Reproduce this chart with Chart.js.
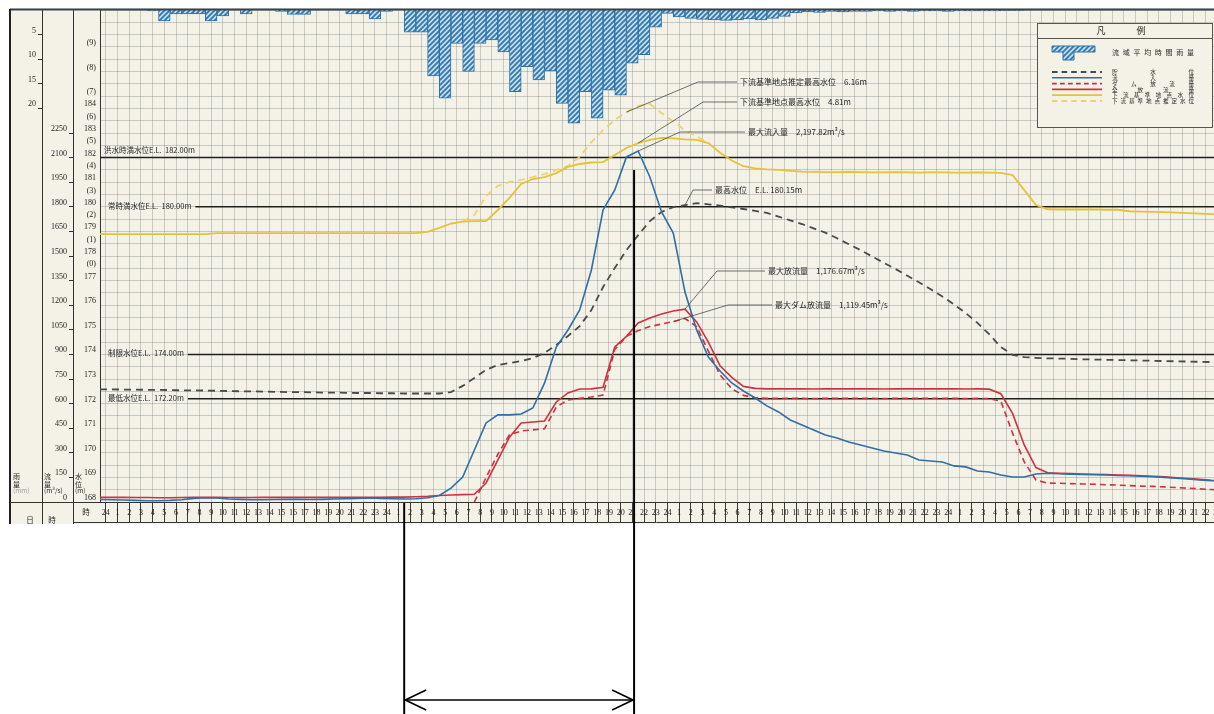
<!DOCTYPE html>
<html><head><meta charset="utf-8">
<script src="https://cdn.jsdelivr.net/npm/chart.js@4.4.1/dist/chart.umd.min.js"></script>
<style>
html,body{margin:0;padding:0;background:#fff;overflow:hidden;width:1214px;height:714px}
#wrap{position:relative;width:1214px;height:714px;overflow:hidden}
canvas{display:block}
</style></head><body>
<div id="wrap"><canvas id="c" width="1240" height="714"></canvas></div>
<script>
// ---------- data (hour index t = -1 .. 95, one value per hour) ----------
const startHour = -1;
const dayHours = ['1','2','3','4','5','6','7','8','9','10','11','12','13','14','15','16','17','18','19','20','21','22','23','24'];
const xTickLabels = ['24', ...dayHours, ...dayHours, ...dayHours, ...dayHours];

// 流入量 (m3/s)
const inflow = [15,
 14,12,10,8,8,10,14,22,26,24, 18,16,14,14,15,16,16,15,16,18, 20,22,24,22,20,18,20,26,40,
 85,152,317,482,531,531,537,573,726,945,1049,1171,1415,1781,1903,2104,2140,1982,1769,1640,
 1280,1049,884,799,726,677,634,586,549,500,470,439,409,390,366,348,329,311,299,287,256,250,244,220,214,189,183,165,152,152,171,
 175,172,170,168,166,165,162,160,157,154,150,145,140,135,130,128];

// 全放流量 (m3/s)
const totalOutflow = [28,
 28,28,27,27,26,26,27,28,28,28, 27,27,27,28,28,28,28,28,28,28, 28,29,29,29,30,30,32,35,40,
 43,45,47,116,256,395,482,488,494,610,665,689,690,700,945,1010,1092,1122,1147,1165,
 1176,1098,975,830,760,705,693,690,690,691,690,689,690,690,691,690,690,689,690,690,690,691,690,690,689,690,688,660,540,348,210,
 178,175,173,171,169,168,165,163,160,157,153,148,143,138,133,131];

// ダム放流量 (m3/s)
const damOutflow = [null,
 null,null,null,null,null,null,null,null,null,null, null,null,null,null,null,null,null,null,null,null,
 null,null,null,null,null,null,null,null,null,null,null,
 0,
 150,290,410,433,440,447,579,622,632,640,652,930,1010,1045,1070,1085,1100,
 1119,1070,920,775,690,650,636,632,632,633,632,631,632,632,633,632,632,631,632,632,632,633,632,632,631,632,630,615,420,244,134,
 115,114,112,110,108,105,103,100,97,95,92,88,84,80,76,73];

// 貯水位 (E.L. m)
const storageLevel = [172.58,
 172.58,172.57,172.57,172.56,172.56,172.55,172.54,172.54,172.53,172.52,
 172.51,172.50,172.50,172.49,172.48,172.47,172.47,172.46,172.45,172.45,
 172.44,172.43,172.43,172.42,172.42,172.41,172.41,172.41,172.41,
 172.47,172.72,173.04,173.37,173.57,173.65,173.73,173.85,174.06,174.38,174.75,175.15,175.80,176.74,177.51,178.24,178.85,179.42,179.79,179.99,
 180.07,180.15,180.10,180.05,179.98,179.91,179.83,179.75,179.60,179.45,179.30,179.12,178.95,178.72,178.48,178.24,177.98,177.72,177.47,177.20,176.93,176.65,176.35,176.03,175.68,175.28,174.82,174.30,173.98,173.89,173.86,
 173.84,173.83,173.82,173.80,173.79,173.78,173.77,173.76,173.75,173.74,173.73,173.72,173.71,173.70,173.69,173.68];

// 下流基準地点水位 (m)
const dsLevel = [1.39,
 1.39,1.39,1.39,1.39,1.39,1.39,1.39,1.39,1.39,
 1.43,1.43,1.43,1.43,1.43,1.43,1.43,1.43,1.43,1.43,1.43,1.43,1.43,1.43,1.43,1.43,1.43,1.43,
 1.48,1.64,1.82,1.90,1.92,1.92,2.37,2.86,3.43,3.63,3.71,3.87,4.12,4.24,4.30,4.32,4.61,4.89,5.09,5.22,5.30,5.28,
 5.24,5.22,5.09,4.70,4.38,4.15,4.06,4.02,4.00,3.96,3.93,3.92,3.91,3.91,3.92,3.91,3.90,3.90,3.91,3.90,3.89,3.90,3.90,3.89,3.89,3.90,3.89,3.88,3.79,3.18,2.57,
 2.40,2.39,2.39,2.39,2.39,2.38,2.38,2.32,2.30,2.29,2.28,2.26,2.24,2.22,2.20,2.18];

// 下流基準地点推定水位 (m)
const dsEstimated = [null,
 null,null,null,null,null,null,null,null,null,null, null,null,null,null,null,null,null,null,null,null,
 null,null,null,null,null,null,null,null,null,
 1.82,1.90,2.17,2.94,3.35,3.51,3.59,3.71,3.83,4.00,4.16,4.53,5.13,5.62,6.03,6.35,6.60,6.68,6.31,5.97,5.61,5.37,5.09,
 null,null,null,null,null,null,null,null,null,null,null,null,null,null,null,null,null,null,null,null,null,null,
 null,null,null,null,null,null,null,null,null,null,null,null,null,null,null,null,null,null,null,null,null,null];

// 流域平均時間雨量 (mm), one value per hourly cell starting at t
const rain = [null,
 null,null,null,0.2,2.2,0.8,0.8,0.8,2.2,1.2, null,0.8,null,null,0.3,0.9,0.9,null,null,null, 0.8,0.8,1.8,0.3,null,
 4.5,4.5,13.4,17.9,6.8,12.5,6.8,6.1,8.5,16.6,11.5,14.2,12.4,19.0,23.0,16.6,22.0,16.3,17.3,10.8,9.1,3.5,0.7,1.4,1.7,
 1.9,2.0,2.1,2.0,1.8,2.0,1.7,1.3,0.6,0.4,0.5,0.3,0.4,0.3,0.3,0.2,0.3,0.2,0.3,0.2,0.2,0.3,0.2,0.2,0.2,0.2,0.1,0.1,
 null,null,null,null,null,null,null,null,null,null,null,null,null,null,null,null,null,null];

// axis tick labels
const rainTicks = [5,10,15,20];
const flowTicks = [0,150,300,450,600,750,900,1050,1200,1350,1500,1650,1800,1950,2100,2250];
const wlTicks = [168,169,170,171,172,173,174,175,176,177,178,179,180,181,182,183,184];
const dsTicks = [0,1,2,3,4,5,6,7,8,9];
const dsZeroOnWL = 177.5;

// reference levels
const refLevels = [182.00, 180.00, 174.00, 172.20];
const refNames = ['洪水時満水位E.L.', '常時満水位E.L.', '制限水位E.L.', '最低水位E.L.'];

// ---------- styling ----------
const paper = '#f4f2e7';
const ink = '#262626';
const gridColor = 'rgba(100,105,112,0.30)';
const numFont = '"Liberation Serif","DejaVu Serif",serif';
const jpFont = '"Noto Sans CJK JP","Noto Sans",sans-serif';
const C = {blue:'#2f6ea6', red:'#cc3341', gray:'#4a4a4a', yellow:'#e4c23a', yellowLt:'#ecd46c', rainEdge:'#2c72a6'};

const canvas = document.getElementById('c');
const ctx0 = canvas.getContext('2d');
function makeHatch(){
  const c = document.createElement('canvas'); c.width = 5; c.height = 5;
  const g = c.getContext('2d');
  g.fillStyle = '#c6dde9'; g.fillRect(0,0,5,5);
  g.strokeStyle = '#3379ad'; g.lineWidth = 1.8;
  g.beginPath();
  g.moveTo(-1,6); g.lineTo(6,-1);
  g.moveTo(-1,1); g.lineTo(1,-1);
  g.moveTo(4,6); g.lineTo(6,4);
  g.stroke();
  return ctx0.createPattern(c,'repeat');
}
const hatch = makeHatch();

const pts = (arr, shift) => arr.map((v,i) => ({x: i + startHour + shift, y: v}));
const seq = (a,b,s) => { const r=[]; for(let v=a; v<=b+1e-9; v+=s) r.push(Math.round(v*100)/100); return r; };

const S = {
  inflow:{color:C.blue, dash:[], w:1.6},
  total:{color:C.red, dash:[], w:1.6},
  dam:{color:C.red, dash:[6,4], w:1.6},
  storage:{color:C.gray, dash:[7,5], w:1.8},
  ds:{color:C.yellow, dash:[], w:1.8},
  dsEst:{color:C.yellowLt, dash:[7,5], w:1.8}
};
function lineDs(label, arr, axis, st){
  return {label, data: pts(arr,0), yAxisID: axis, borderColor: st.color, borderDash: st.dash,
          borderWidth: st.w, pointRadius: 0, tension: 0, fill: false, spanGaps: false};
}

// ---------- plugins ----------
function txt(ctx, s, x, y, size, align, color, font){
  ctx.font = size + 'px ' + (font || jpFont);
  ctx.fillStyle = color || ink; ctx.textAlign = align || 'left'; ctx.textBaseline = 'middle';
  ctx.fillText(s, x, y);
}
function spread(ctx, s, x0, x1, y, size){
  const ch = [...s];
  ctx.font = size + 'px ' + jpFont; ctx.fillStyle = ink; ctx.textBaseline = 'middle'; ctx.textAlign = 'center';
  if (ch.length === 1) { ctx.fillText(ch[0], (x0+x1)/2, y); return; }
  const step = (x1 - x0 - size) / (ch.length - 1);
  ch.forEach((c,i) => ctx.fillText(c, x0 + size/2 + i*step, y));
}
function line(ctx, x0,y0,x1,y1){ ctx.beginPath(); ctx.moveTo(x0,y0); ctx.lineTo(x1,y1); ctx.stroke(); }

const bgPlugin = {
  id:'bg',
  beforeDraw(chart){
    const {ctx} = chart;
    ctx.save();
    ctx.fillStyle = '#fff'; ctx.fillRect(0,0,chart.width,chart.height);
    ctx.fillStyle = paper; ctx.fillRect(10,8,chart.width-10,516);
    ctx.restore();
  }
};

const levelPlugin = {
  id:'levels',
  beforeDatasetsDraw(chart){
    const {ctx, chartArea:a} = chart;
    const y = chart.scales.yWL;
    ctx.save();
    refLevels.forEach((lv,i) => {
      const py = y.getPixelForValue(lv);
      const label = refNames[i] + '  ' + lv.toFixed(2) + 'm';
      ctx.font = '7.5px ' + jpFont;
      const w = ctx.measureText(label).width;
      ctx.strokeStyle = '#1e1e1e'; ctx.lineWidth = 1.5;
      if (i === 0) {
        txt(ctx, label, a.left + 4, py - 7, 7.5);
        line(ctx, a.left, py, a.right, py);
      } else {
        txt(ctx, label, a.left + 8, py - 1, 7.5);
        line(ctx, a.left + 12 + w, py, a.right, py);
      }
    });
    ctx.restore();
  }
};

const notes = [
  {text:'下流基準地点推定最高水位　6.16m', tx:740, ty:82, ex:698, series:dsEstimated, axis:'yDS', t:44},
  {text:'下流基準地点最高水位　4.81m', tx:740, ty:102, ex:703, series:dsLevel, axis:'yDS', t:45},
  {text:'最大流入量　2,197.82m³/s', tx:748, ty:132, ex:680, series:inflow, axis:'yQ', t:45},
  {text:'最高水位　E.L. 180.15m', tx:715, ty:190, ex:693, series:storageLevel, axis:'yWL', t:49},
  {text:'最大放流量　1,176.67m³/s', tx:768, ty:271, ex:717, series:totalOutflow, axis:'yQ', t:49},
  {text:'最大ダム放流量　1,119.45m³/s', tx:775, ty:305, ex:728, series:damOutflow, axis:'yQ', t:48}
];
const spanHours = [25, 44.65];

const overlayPlugin = {
  id:'overlay',
  afterDatasetsDraw(chart){
    const {ctx} = chart;
    const xs = chart.scales.x;
    ctx.save();
    notes.forEach(n => {
      const px = xs.getPixelForValue(n.t);
      const py = chart.scales[n.axis].getPixelForValue(n.series[n.t - startHour]);
      ctx.strokeStyle = '#4a4a4a'; ctx.lineWidth = 0.8;
      ctx.beginPath(); ctx.moveTo(n.tx - 3, n.ty); ctx.lineTo(n.ex, n.ty); ctx.lineTo(px, py); ctx.stroke();
      txt(ctx, n.text, n.tx, n.ty, 8);
    });
    ctx.restore();
  },
  afterDraw(chart){
    const {ctx, chartArea:a} = chart;
    const xs = chart.scales.x;
    ctx.save();
    // frame
    ctx.strokeStyle = '#36424d'; ctx.lineWidth = 2;
    line(ctx, 10, 9.5, chart.width, 9.5);
    ctx.strokeStyle = '#222'; ctx.lineWidth = 2;
    line(ctx, 10, 9, 10, 524);
    ctx.lineWidth = 1; ctx.strokeStyle = '#333';
    line(ctx, 42.5, a.bottom, 42.5, 524);
    line(ctx, 73.5, a.bottom, 73.5, 524);
    line(ctx, 10, a.bottom + 0.5, a.left, a.bottom + 0.5);
    line(ctx, 73, 522.5, chart.width, 522.5);
    // table headers
    txt(ctx, '雨', 13, 476, 7); txt(ctx, '量', 13, 484, 7); txt(ctx, '(mm)', 13, 491, 6.5, 'left', '#9a9a9a');
    txt(ctx, '流', 44, 476, 7); txt(ctx, '量', 44, 484, 7); txt(ctx, '(m³/s)', 44, 491, 6.5);
    txt(ctx, '水', 75, 476, 7); txt(ctx, '位', 75, 484, 7); txt(ctx, '(m)', 75, 491, 6.5);
    txt(ctx, '時', 86, 512, 7.5, 'center');
    txt(ctx, '日', 30, 520, 7.5, 'center'); txt(ctx, '時', 52, 520, 7.5, 'center');

    // legend
    const lx0 = 1037, ly0 = 23, lx1 = 1212, ly1 = 127;
    ctx.fillStyle = paper; ctx.fillRect(lx0, ly0, lx1-lx0, ly1-ly0);
    ctx.strokeStyle = '#555'; ctx.lineWidth = 1;
    ctx.strokeRect(lx0+0.5, ly0+0.5, lx1-lx0, ly1-ly0);
    line(ctx, lx0, 38.5, lx1, 38.5);
    txt(ctx, '凡', 1101, 31, 9, 'center'); txt(ctx, '例', 1141, 31, 9, 'center');
    ctx.fillStyle = hatch; ctx.strokeStyle = C.rainEdge; ctx.lineWidth = 1;
    ctx.beginPath();
    ctx.moveTo(1052,46); ctx.lineTo(1095,46); ctx.lineTo(1095,52); ctx.lineTo(1074,52); ctx.lineTo(1074,60);
    ctx.lineTo(1063,60); ctx.lineTo(1063,52); ctx.lineTo(1052,52); ctx.closePath();
    ctx.fill(); ctx.stroke();
    spread(ctx, '流域平均時間雨量', 1112, 1194, 52, 7);
    const legendRows = [
      ['貯水位', S.storage], ['流入量', S.inflow], ['ダム放流量', S.dam],
      ['全放流量', S.total], ['下流基準地点水位', S.ds], ['下流基準地点推定水位', S.dsEst]
    ];
    legendRows.forEach((r,i) => {
      const y = 72 + i*5.8;
      ctx.strokeStyle = r[1].color; ctx.lineWidth = r[1].w; ctx.setLineDash(r[1].dash.map(d => d*0.8));
      line(ctx, 1052, y, 1102, y);
      ctx.setLineDash([]);
      spread(ctx, r[0], 1112, 1194, y, 5.6);
    });

    // time-span marker below the chart
    const xa = xs.getPixelForValue(spanHours[0]);
    const xb = xs.getPixelForValue(spanHours[1]);
    ctx.strokeStyle = '#000'; ctx.lineWidth = 2;
    line(ctx, xa, 503, xa, 714);
    line(ctx, xb, 170, xb, 714);
    ctx.lineWidth = 1.6;
    line(ctx, xa, 700, xb, 700);
    ctx.beginPath();
    ctx.moveTo(xa + 22, 690); ctx.lineTo(xa + 1, 700); ctx.lineTo(xa + 22, 710);
    ctx.moveTo(xb - 22, 690); ctx.lineTo(xb - 1, 700); ctx.lineTo(xb - 22, 710);
    ctx.stroke();
    ctx.restore();
  }
};

// ---------- chart ----------
const tickFont = {size: 8, family: numFont};
new Chart(ctx0, {
  type: 'line',
  data: {
    datasets: [
      lineDs('流入量', inflow, 'yQ', S.inflow),
      lineDs('全放流量', totalOutflow, 'yQ', S.total),
      lineDs('ダム放流量', damOutflow, 'yQ', S.dam),
      lineDs('貯水位', storageLevel, 'yWL', S.storage),
      lineDs('下流基準地点水位', dsLevel, 'yDS', S.ds),
      lineDs('下流基準地点推定水位', dsEstimated, 'yDS', S.dsEst),
      {type:'bar', label:'流域平均時間雨量', data: pts(rain, 0.5), yAxisID:'yRain',
       backgroundColor: hatch, borderColor: C.rainEdge, borderWidth: 1, borderSkipped: 'start',
       barPercentage: 1, categoryPercentage: 1}
    ]
  },
  options: {
    responsive: false, devicePixelRatio: 1, animation: false,
    layout: {padding: {left: 10, right: 11, top: 10, bottom: 192}},
    plugins: {legend: {display: false}, tooltip: {enabled: false}},
    scales: {
      x: {
        type: 'linear', position: 'bottom', min: -1, max: 95.5, offset: false,
        afterBuildTicks: s => { s.ticks = seq(-1, 95, 1).map(v => ({value: v})); },
        afterFit: s => { s.height = 20; },
        grid: {color: gridColor, lineWidth: 1, drawTicks: true, tickLength: 20, tickColor: '#3a3a3a', tickWidth: 1},
        border: {display: true, color: '#333', width: 1},
        ticks: {autoSkip: false, maxRotation: 0, minRotation: 0, labelOffset: 5.85, padding: -14,
                font: tickFont, color: '#222', callback: v => xTickLabels[v + 1]}
      },
      yRain: {
        type: 'linear', position: 'left', weight: 3, reverse: true, min: 0, max: 100,
        afterBuildTicks: s => { s.ticks = rainTicks.map(v => ({value: v})); },
        afterFit: s => { s.width = 32; },
        grid: {drawOnChartArea: false, drawTicks: true, tickLength: 4, tickColor: '#333'},
        border: {display: true, color: '#333', width: 1},
        ticks: {autoSkip: false, padding: 2, labelOffset: -4, font: tickFont, color: '#222', callback: v => String(v)}
      },
      yQ: {
        type: 'linear', position: 'left', weight: 2, min: 0, max: 3000,
        afterBuildTicks: s => { s.ticks = flowTicks.map(v => ({value: v})); },
        afterFit: s => { s.width = 31; },
        grid: {drawOnChartArea: false, drawTicks: true, tickLength: 4, tickColor: '#333'},
        border: {display: true, color: '#333', width: 1},
        ticks: {autoSkip: false, padding: 2, labelOffset: -4, font: tickFont, color: '#222', callback: v => String(v)}
      },
      yWL: {
        type: 'linear', position: 'left', weight: 1, min: 168, max: 188,
        afterBuildTicks: s => { s.ticks = seq(168, 188, 0.5).map(v => ({value: v})); },
        afterFit: s => { s.width = 27; },
        grid: {drawOnChartArea: true, color: gridColor, lineWidth: 1, drawTicks: false},
        border: {display: true, color: '#333', width: 1},
        ticks: {autoSkip: false, padding: 4, labelOffset: -4, font: tickFont, color: '#222',
          callback: v => {
            if (wlTicks.includes(v)) return String(v);
            const n = Math.round((v - dsZeroOnWL) * 100) / 100;
            if (dsTicks.includes(n)) return '(' + n + ')';
            return '';
          }}
      },
      yDS: {type: 'linear', display: false, min: 168 - dsZeroOnWL, max: 188 - dsZeroOnWL}
    }
  },
  plugins: [bgPlugin, levelPlugin, overlayPlugin]
});
</script>
</body></html>
